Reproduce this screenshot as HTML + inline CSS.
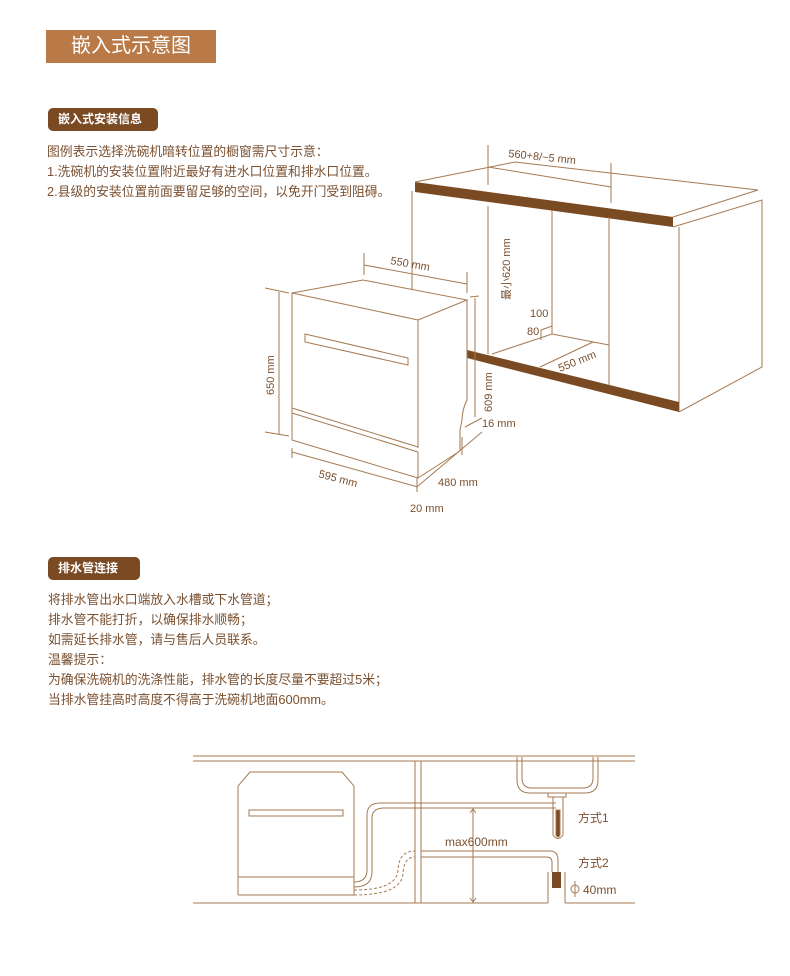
<!DOCTYPE html>
<html><head><meta charset="utf-8"><style>
body{margin:0;width:790px;height:976px;background:#fff;position:relative;overflow:hidden;font-family:"Liberation Sans","Noto Sans CJK SC",sans-serif;color:#7a5030}
.hd{position:absolute;left:46px;top:30px;width:170px;height:33px;background:#b97a48;color:#fff;font-size:20px;line-height:33px;text-align:center}
.bd{position:absolute;left:48px;height:23px;background:#7a4a22;color:#fff;font-size:12px;font-weight:bold;line-height:23px;border-radius:5px;padding:0 0 0 10px;box-sizing:border-box}
.tx{position:absolute;left:47px;font-size:12.8px;line-height:20px;white-space:nowrap}
svg{position:absolute;left:0;top:0}
</style></head><body>
<div class="hd">嵌入式示意图</div>
<div class="bd" style="top:108px;width:110px">嵌入式安装信息</div>
<div class="tx" style="top:142px">图例表示选择洗碗机暗转位置的橱窗需尺寸示意：<br>1.洗碗机的安装位置附近最好有进水口位置和排水口位置。<br>2.县级的安装位置前面要留足够的空间，以免开门受到阻碍。</div>
<div class="bd" style="top:557px;width:92px">排水管连接</div>
<div class="tx" style="top:590px;left:48px">将排水管出水口端放入水槽或下水管道；<br>排水管不能打折，以确保排水顺畅；<br>如需延长排水管，请与售后人员联系。<br>温馨提示：<br>为确保洗碗机的洗涤性能，排水管的长度尽量不要超过5米；<br>当排水管挂高时高度不得高于洗碗机地面600mm。</div>
<svg width="790" height="976" viewBox="0 0 790 976" fill="none" stroke="#a57a52" stroke-width="1">
<polygon points="415,182 673,217 673,227 415,192" fill="#7a4a22" stroke="none"/>
<polyline points="415,182 515,162 758,190 673,217"/>
<polyline points="673,227 762,200 762,367 679,412"/>
<line x1="679" y1="227" x2="679" y2="412"/>
<line x1="412" y1="191" x2="412" y2="290"/>
<polygon points="467,350 679,402 679,412 467,358" fill="#7a4a22" stroke="none"/>
<line x1="488" y1="206" x2="488" y2="354"/>
<line x1="552" y1="210" x2="552" y2="334"/>
<line x1="609" y1="217" x2="609" y2="385"/>
<polyline points="492,354 552,334 609,345"/>
<line x1="540" y1="367" x2="593" y2="342"/>
<polyline points="541,340 541,330 552,326"/>
<line x1="488" y1="145" x2="488" y2="185"/>
<line x1="611" y1="163" x2="611" y2="203"/>
<line x1="488" y1="167" x2="611" y2="187"/>
<polyline points="292,293 363,280 467,300 418,320 292,293 292,440"/>
<line x1="418" y1="320" x2="418" y2="448"/>
<path d="M467,300 L467,400 Q462,410 462,420 L460,430 L460,450"/>
<line x1="292" y1="408" x2="418" y2="447"/>
<polyline points="292,413 292,440 418,478 418,452 292,413"/>
<line x1="418" y1="478" x2="460" y2="451"/>
<polygon points="305,334 408,358 408,365 305,342"/>
<line x1="279" y1="292" x2="279" y2="435"/>
<line x1="265" y1="288" x2="289" y2="293"/><line x1="265" y1="432" x2="289" y2="436"/>
<line x1="364" y1="253" x2="364" y2="275"/><line x1="467" y1="272" x2="467" y2="293"/>
<line x1="364" y1="265" x2="467" y2="284"/>
<line x1="475" y1="298" x2="475" y2="417"/><line x1="470" y1="297" x2="479" y2="296"/>
<line x1="465" y1="427" x2="482" y2="418"/>
<line x1="418" y1="486" x2="482" y2="432"/>
<line x1="292" y1="452" x2="418" y2="487"/><line x1="292" y1="448" x2="292" y2="458"/>
<line x1="417" y1="478" x2="417" y2="492"/><line x1="462" y1="437" x2="462" y2="455"/>
<line x1="193" y1="756" x2="635" y2="756"/><line x1="193" y1="761" x2="635" y2="761"/>
<line x1="193" y1="903" x2="548" y2="903"/><line x1="565" y1="903" x2="635" y2="903"/>
<line x1="415" y1="761" x2="415" y2="903"/><line x1="421" y1="761" x2="421" y2="903"/>
<polyline points="238,895 238,786 250,772 342,772 354,786 354,895 238,895"/>
<line x1="238" y1="877" x2="354" y2="877"/>
<rect x="249" y="810" width="94" height="6"/>
<path d="M517,757 L517,780 Q517,793 530,793 L585,793 Q598,793 598,780 L598,757"/>
<path d="M522,757 L522,778 Q522,788 532,788 L583,788 Q593,788 593,778 L593,757"/>
<rect x="548" y="793" width="18" height="4"/>
<path d="M553,797 L553,835 Q558,842 563,835 L563,797" />
<path d="M556,810 L556,835 Q558,839 560,835 L560,810Z" fill="#7a4a22"/>
<path d="M354,882 Q367,882 367,870 L367,815 Q367,803 380,803 L556,803"/>
<path d="M354,887 Q372,887 372,872 L372,818 Q372,808 384,808 L556,808"/>
<path d="M421,851 L550,851 Q558,851 558,860 L558,872"/>
<path d="M421,857 L546,857 Q552,857 552,862 L552,872"/>
<rect x="552" y="872" width="9" height="16" fill="#7a4a22" stroke="none"/>
<line x1="548" y1="872" x2="548" y2="903"/><line x1="565" y1="872" x2="565" y2="903"/>
<path d="M354,890 Q397,890 398,870 Q399,851 415,851 M354,895 Q402,895 403,873 Q404,857 415,857" stroke-dasharray="3,2"/>
<line x1="473" y1="809" x2="473" y2="902"/>
<polyline points="470,813 473,809 476,813"/><polyline points="470,898 473,902 476,898"/>
<circle cx="575" cy="889" r="4"/><line x1="575" y1="881" x2="575" y2="897"/>
<g fill="#7a5030" stroke="none" font-family="Liberation Sans,Noto Sans CJK SC,sans-serif" font-size="11">
<text x="508" y="157" transform="rotate(6 508 157)">560+8/−5 mm</text>
<text x="510" y="300" transform="rotate(-90 510 300)">最小620 mm</text>
<text x="530" y="317">100</text><text x="527" y="335">80</text>
<text x="560" y="372" transform="rotate(-22 560 372)">550 mm</text>
<text x="390" y="264" transform="rotate(10 390 264)">550 mm</text>
<text x="274" y="395" transform="rotate(-90 274 395)">650 mm</text>
<text x="492" y="412" transform="rotate(-90 492 412)">609 mm</text>
<text x="482" y="427">16 mm</text>
<text x="438" y="486">480 mm</text>
<text x="318" y="477" transform="rotate(15 318 477)">595 mm</text>
<text x="410" y="512">20 mm</text>
<text x="445" y="846" font-size="12">max600mm</text>
<text x="578" y="822" font-size="12">方式1</text>
<text x="578" y="867" font-size="12">方式2</text>
<text x="583" y="894" font-size="12">40mm</text>
</g>
</svg>
</body></html>
